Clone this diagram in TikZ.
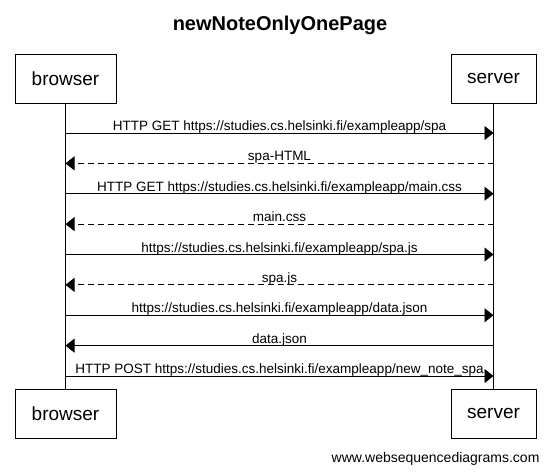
\documentclass[tikz,border=0pt]{standalone}
\usepackage{fontspec}
\setmainfont{Liberation Sans}
\usetikzlibrary{arrows.meta}

\begin{document}
\begin{tikzpicture}[x=1pt,y=-1pt,
    actor/.style={draw,line width=0.8pt,inner sep=0pt,minimum height=49pt,font=\fontsize{19}{22}\selectfont},
    msg/.style={line width=0.8pt,-{Triangle[length=9pt,width=14pt]}},
    reply/.style={msg,dash pattern=on 6pt off 4pt},
    lbl/.style={midway,above=2pt,inner sep=0pt,text depth=0pt,font=\fontsize{13.5}{16}\selectfont}]
    \useasboundingbox (0,0) rectangle (551,472);
    \node[anchor=base,font=\bfseries\fontsize{20}{24}\selectfont] (title) at (280,30) {newNoteOnlyOnePage};

    % participants, top and bottom
    \node[actor,minimum width=101pt] (Bt) at (65.5,78.5) {browser};
    \node[actor,minimum width=85pt] (St) at (493.5,78.5) {server};
    \node[actor,minimum width=101pt] (Bb) at (65.5,413.5) {browser};
    \node[actor,minimum width=85pt] (Sb) at (493.5,413.5) {server};
    \draw[line width=0.8pt] (Bt.south) -- (Bb.north);
    \draw[line width=0.8pt] (St.south) -- (Sb.north);

    \foreach \i in {1,...,9} {
        \coordinate (b\i) at (65.5,{133+30.375*(\i-1)});
        \coordinate (s\i) at (493.5,{133+30.375*(\i-1)});
    }

    \draw[msg] (b1) -- (s1) node[lbl] {HTTP GET https://studies.cs.helsinki.fi/exampleapp/spa};
    \draw[reply] (s2) -- (b2) node[lbl] {spa-HTML};
    \draw[msg] (b3) -- (s3) node[lbl] {HTTP GET https://studies.cs.helsinki.fi/exampleapp/main.css};
    \draw[reply] (s4) -- (b4) node[lbl] {main.css};
    \draw[msg] (b5) -- (s5) node[lbl] {https://studies.cs.helsinki.fi/exampleapp/spa.js};
    \draw[reply] (s6) -- (b6) node[lbl] {spa.js};
    \draw[msg] (b7) -- (s7) node[lbl] {https://studies.cs.helsinki.fi/exampleapp/data.json};
    \draw[msg] (s8) -- (b8) node[lbl] {data.json};
    \draw[msg] (b9) -- (s9) node[lbl] {HTTP POST https://studies.cs.helsinki.fi/exampleapp/new\_note\_spa};

    \node[anchor=base east,font=\fontsize{14}{17}\selectfont] (credit) at (543,462) {www.websequencediagrams.com};
\end{tikzpicture}
\end{document}
